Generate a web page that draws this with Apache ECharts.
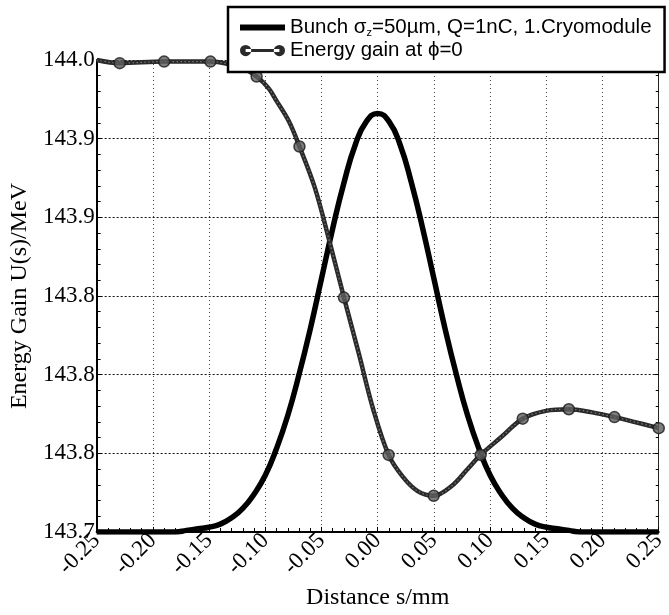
<!DOCTYPE html>
<html>
<head>
<meta charset="utf-8">
<script src="https://cdn.jsdelivr.net/npm/echarts@6/dist/echarts.min.js"></script>
<style>
  html, body { margin: 0; padding: 0; background: #fff; }
  #chart { width: 669px; height: 615px; }
</style>
</head>
<body>
<div id="chart"></div>
<script>
// Longitudinal bunch profile (drawn on the energy scale) along s in mm
const bunchS = [-0.25, -0.24, -0.23, -0.22, -0.21, -0.20, -0.19, -0.18, -0.17, -0.16,
                -0.15, -0.14, -0.13, -0.12, -0.11, -0.10, -0.09, -0.08, -0.07, -0.06,
                -0.05, -0.04, -0.03, -0.02, -0.01, 0.00, 0.01, 0.02, 0.03, 0.04,
                0.05, 0.06, 0.07, 0.08, 0.09, 0.10, 0.11, 0.12, 0.13, 0.14,
                0.15, 0.16, 0.17, 0.18, 0.19, 0.20, 0.21, 0.22, 0.23, 0.24, 0.25];
const bunchU = [143.700, 143.700, 143.700, 143.700, 143.700, 143.700, 143.700, 143.700, 143.701, 143.702,
                143.703, 143.705, 143.709, 143.715, 143.724, 143.736, 143.753, 143.774, 143.800, 143.829,
                143.861, 143.893, 143.922, 143.946, 143.961, 143.966, 143.961, 143.946, 143.922, 143.893,
                143.861, 143.829, 143.800, 143.774, 143.753, 143.736, 143.724, 143.715, 143.709, 143.705,
                143.703, 143.702, 143.701, 143.700, 143.700, 143.700, 143.700, 143.700, 143.700, 143.700, 143.700];

// Energy gain U(s) at phi = 0 (continuous curve)
const gainS = [-0.25, -0.2295, -0.19, -0.1488, -0.13, -0.12, -0.1077, -0.097, -0.090, -0.079,
               -0.0696, -0.056, -0.043, -0.030, -0.017, -0.004, 0.0097, 0.0224, 0.0355, 0.0498,
               0.0655, 0.080, 0.0916, 0.1094, 0.129, 0.1497, 0.170, 0.1909, 0.2106, 0.228, 0.250];
const gainU = [144.000, 143.998, 143.999, 143.999, 143.997, 143.995, 143.9895, 143.982, 143.974, 143.961,
               143.945, 143.919, 143.885, 143.849, 143.814, 143.778, 143.749, 143.735, 143.726, 143.723,
               143.729, 143.740, 143.749, 143.760, 143.772, 143.777, 143.778, 143.776, 143.773, 143.770, 143.766];

// Sampled points marked on the energy gain curve
const markS = [-0.2295, -0.19, -0.1488, -0.1077, -0.0696, -0.030, 0.0097, 0.0498, 0.0916, 0.129, 0.170, 0.2106, 0.250];
const markU = [143.998, 143.999, 143.999, 143.9895, 143.945, 143.849, 143.749, 143.723, 143.749, 143.772, 143.778, 143.773, 143.766];

// Tick labels as printed on the energy axis (one decimal)
const yTickValues = [143.70, 143.75, 143.80, 143.85, 143.90, 143.95, 144.00];
const yTickLabels = ['143.7', '143.8', '143.8', '143.8', '143.9', '143.9', '144.0'];

const bunchName = 'Bunch σ{sub|z}=50µm, Q=1nC, 1.Cryomodule';
const gainName = 'Energy gain at ϕ=0';

const zip = (a, b) => a.map((v, i) => [v, b[i]]);

const serif = '"Liberation Serif", "Times New Roman", serif';
const sans = '"Liberation Sans", Arial, sans-serif';

const chart = echarts.init(document.getElementById('chart'));
chart.setOption({
  animation: false,
  backgroundColor: '#fff',
  grid: { left: 95, right: 5, top: 60, bottom: 79, containLabel: false },
  legend: {
    left: 228, top: 7,
    orient: 'vertical',
    backgroundColor: '#fff',
    borderColor: '#000',
    borderWidth: 2.5,
    borderRadius: 0,
    padding: [10, 13, 11, 12],
    itemGap: 2,
    itemWidth: 45,
    itemHeight: 12,
    z: 10,
    textStyle: {
      fontFamily: sans, fontSize: 20.5, color: '#000',
      rich: { sub: { fontFamily: sans, fontSize: 11, verticalAlign: 'bottom', padding: [9, 0, 0, 0] } }
    },
    data: [
      { name: bunchName, icon: 'path://M0,0H45V6H0Z' },
      { name: gainName, icon: 'path://M0.5,6a5.5,5.5 0 1,0 11,0a5.5,5.5 0 1,0 -11,0Z M33.5,6a5.5,5.5 0 1,0 11,0a5.5,5.5 0 1,0 -11,0Z M6,4.5H39V7.5H6Z' }
    ]
  },
  xAxis: {
    type: 'value',
    min: -0.25, max: 0.25, interval: 0.05,
    name: 'Distance s/mm',
    nameLocation: 'middle',
    nameGap: 54,
    nameTextStyle: { fontFamily: serif, fontSize: 24, color: '#000' },
    axisLine: { show: true, onZero: false, lineStyle: { color: '#000', width: 2 } },
    axisTick: { show: true, inside: true, length: 5, lineStyle: { color: '#000' } },
    minorTick: { show: true, splitNumber: 5, length: 4, lineStyle: { color: '#000' } },
    axisLabel: {
      rotate: 45, margin: 5,
      fontFamily: serif, fontSize: 23, color: '#000',
      formatter: v => v.toFixed(2)
    },
    splitLine: { show: true, lineStyle: { color: '#444', width: 1, type: [1, 3] } }
  },
  yAxis: [{
    type: 'value',
    min: 143.7, max: 144.0, interval: 0.05,
    name: 'Energy Gain U(s)/MeV',
    nameLocation: 'middle',
    nameGap: 61,
    nameRotate: 90,
    nameTextStyle: { fontFamily: serif, fontSize: 24, color: '#000' },
    axisLine: { show: true, onZero: false, lineStyle: { color: '#000', width: 2 } },
    axisTick: { show: true, inside: true, length: 5, lineStyle: { color: '#000' } },
    minorTick: { show: true, splitNumber: 5, length: 4, lineStyle: { color: '#000' } },
    axisLabel: {
      margin: 2,
      fontFamily: serif, fontSize: 23, color: '#000',
      formatter: v => {
        let best = 0;
        yTickValues.forEach((t, i) => { if (Math.abs(t - v) < Math.abs(yTickValues[best] - v)) best = i; });
        return yTickLabels[best];
      }
    },
    splitLine: { show: true, lineStyle: { color: '#111', width: 1, type: [2, 2] } }
  }, {
    type: 'value',
    position: 'right',
    min: 143.7, max: 144.0, interval: 0.05,
    axisLine: { show: true, onZero: false, lineStyle: { color: '#222', width: 1 } },
    axisTick: { show: true, inside: true, length: 4, lineStyle: { color: '#000' } },
    minorTick: { show: true, splitNumber: 5, length: 3, lineStyle: { color: '#000' } },
    axisLabel: { show: false },
    splitLine: { show: false }
  }],
  series: [
    {
      name: bunchName,
      type: 'line',
      data: zip(bunchS, bunchU),
      smooth: true,
      showSymbol: false,
      symbol: 'none',
      color: '#000',
      lineStyle: { color: '#000', width: 5.5 },
      z: 3
    },
    {
      name: gainName,
      type: 'line',
      data: zip(gainS, gainU),
      smooth: 0.35,
      showSymbol: false,
      symbol: 'none',
      color: '#2a2a2a',
      lineStyle: { color: '#2a2a2a', width: 4.5 },
      z: 4
    },
    {
      name: 'gain-texture',
      type: 'line',
      data: zip(gainS, gainU),
      smooth: 0.35,
      showSymbol: false,
      symbol: 'none',
      silent: true,
      lineStyle: { color: '#7a7a7a', width: 1.2, type: [1.5, 2.5] },
      z: 5
    },
    {
      name: 'gain-points',
      type: 'scatter',
      data: zip(markS, markU),
      symbol: 'circle',
      symbolSize: 11,
      itemStyle: { color: '#5e5e5e', borderColor: '#1a1a1a', borderWidth: 1.5 },
      z: 6
    }
  ]
});
</script>
</body>
</html>
